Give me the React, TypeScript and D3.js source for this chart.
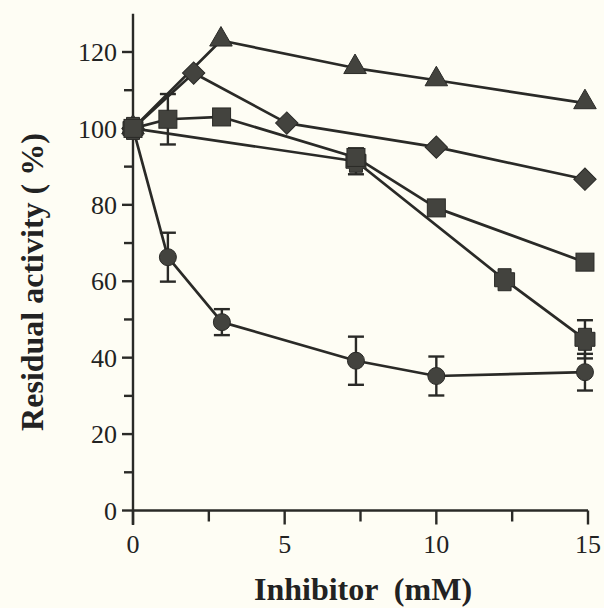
import React from "react";
import * as d3 from "d3";

// ---- data ----
const triX = [0, 2.9, 7.32, 10.0, 14.9];
const triY = [100, 123, 115.8, 112.6, 106.6];

const diaX = [0, 2.0, 5.07, 10.0, 14.9];
const diaY = [100, 114.5, 101.4, 95.1, 86.7];

const sqX = [0, 1.15, 2.92, 7.35, 10.0, 14.9];
const sqY = [100, 102.4, 103, 92.4, 79.2, 65];
const sqErr = [0, 6.6, 0, 0, 0, 0];

const xsqX = [0, 7.35, 12.25, 14.9];
const xsqY = [100, 91.4, 60.4, 44.8];
const xsqErr = [0, 3.4, 0, 5.0];

const cirX = [0, 1.15, 2.93, 7.35, 10.0, 14.9];
const cirY = [100, 66.3, 49.3, 39.2, 35.2, 36.2];
const cirErr = [0, 6.4, 3.4, 6.3, 5.1, 4.8];

const yMajor = [0, 20, 40, 60, 80, 100, 120];
const yMinor = [10, 30, 50, 70, 90, 110];
const xMajor = [0, 5, 10, 15];
const xMinor = [2.5, 7.5, 12.5];

const W = 604;
const H = 608;
const BG = "#fefdf4";
const INK = "#2a2a27";
const FILL = "#43433e";
const SERIF = "'Liberation Serif', 'Times New Roman', Times, serif";

export default function App() {
  const x = d3.scaleLinear().domain([0, 15]).range([133, 588]);
  const y = d3.scaleLinear().domain([0, 120]).range([510.5, 52]);
  const line = d3
    .line<[number, number]>()
    .x((d) => x(d[0]))
    .y((d) => y(d[1]));
  const zip = (a: number[], b: number[]) => a.map((v, i) => [v, b[i]] as [number, number]);

  const sym = (type: d3.SymbolType, size: number) => d3.symbol().type(type).size(size)()!;
  const triPath = sym(d3.symbolTriangle, 220);
  const diaPath = sym(d3.symbolSquare, 250);

  const errBars = (xs: number[], ys: number[], es: number[], key: string) =>
    xs.map((xv, i) =>
      es[i] > 0 ? (
        <g key={key + i} stroke={INK} strokeWidth={2.4}>
          <line x1={x(xv)} x2={x(xv)} y1={y(ys[i] - es[i])} y2={y(ys[i] + es[i])} />
          <line x1={x(xv) - 8} x2={x(xv) + 8} y1={y(ys[i] - es[i])} y2={y(ys[i] - es[i])} />
          <line x1={x(xv) - 8} x2={x(xv) + 8} y1={y(ys[i] + es[i])} y2={y(ys[i] + es[i])} />
        </g>
      ) : null
    );

  return (
    <svg
      width={W}
      height={H}
      style={{ position: "absolute", left: 0, top: 0, display: "block" }}
    >
      <rect x={0} y={0} width={W} height={H} fill={BG} />

      {/* axes */}
      <g stroke={INK} strokeWidth={2.4} fill="none">
        <line x1={x(0)} x2={x(0)} y1={y(130)} y2={525} />
        <line x1={x(0)} x2={x(15)} y1={y(0)} y2={y(0)} />
        {yMajor.map((v) => (
          <line key={"ym" + v} x1={x(0) - 11} x2={x(0)} y1={y(v)} y2={y(v)} />
        ))}
        {yMinor.map((v) => (
          <line key={"yn" + v} x1={x(0) - 9} x2={x(0)} y1={y(v)} y2={y(v)} />
        ))}
        {xMajor.map((v) => (
          <line key={"xm" + v} x1={x(v)} x2={x(v)} y1={y(0)} y2={y(0) + 14} />
        ))}
        {xMinor.map((v) => (
          <line key={"xn" + v} x1={x(v)} x2={x(v)} y1={y(0)} y2={y(0) + 11} />
        ))}
      </g>

      {/* tick labels */}
      <g fontFamily={SERIF} fontSize={26} fill="#222">
        {yMajor.map((v) => (
          <text key={"yl" + v} x={117} y={y(v)} dy="0.35em" textAnchor="end">
            {v}
          </text>
        ))}
        {xMajor.map((v) => (
          <text key={"xl" + v} x={x(v)} y={553} textAnchor="middle">
            {v}
          </text>
        ))}
      </g>

      {/* axis titles */}
      <text
        x={363}
        y={600}
        textAnchor="middle"
        fontFamily={SERIF}
        fontWeight="bold"
        fontSize={32}
        fill="#222"
        style={{ whiteSpace: "pre" }}
      >
        {"Inhibitor  (mM)"}
      </text>
      <text
        transform={`translate(43,282) rotate(-90)`}
        textAnchor="middle"
        fontFamily={SERIF}
        fontWeight="bold"
        fontSize={32}
        fill="#222"
        style={{ whiteSpace: "pre" }}
      >
        {"Residual activity ( %)"}
      </text>

      {/* connecting lines */}
      <g fill="none" stroke={INK} strokeWidth={2.7} strokeLinejoin="round">
        <path d={line(zip(triX, triY))!} />
        <path d={line(zip(diaX, diaY))!} />
        <path d={line(zip(sqX, sqY))!} />
        <path d={line(zip(xsqX, xsqY))!} />
        <path d={line(zip(cirX, cirY))!} />
      </g>

      {/* error bars */}
      {errBars(cirX, cirY, cirErr, "ce")}
      {errBars(sqX, sqY, sqErr, "se")}
      {errBars(xsqX, xsqY, xsqErr, "xe")}

      {/* markers */}
      <g fill={FILL} stroke={INK} strokeWidth={1}>
        {cirX.map((v, i) => (
          <circle key={"c" + i} cx={x(v)} cy={y(cirY[i])} r={8.5} />
        ))}
        {triX.map((v, i) => (
          <path key={"t" + i} d={triPath} transform={`translate(${x(v)},${y(triY[i]) - 1})`} />
        ))}
        {diaX.map((v, i) => (
          <path
            key={"d" + i}
            d={diaPath}
            transform={`translate(${x(v)},${y(diaY[i])}) rotate(45)`}
          />
        ))}
        {xsqX.map((v, i) => (
          <path
            key={"x" + i}
            transform={`translate(${x(v)},${y(xsqY[i])})`}
            d="M-6.5,-11H6.5V-7H10V7H6.5V11H-6.5V7H-10V-7H-6.5Z"
          />
        ))}
        {sqX.map((v, i) => (
          <rect key={"s" + i} x={x(v) - 9} y={y(sqY[i]) - 9} width={18} height={18} />
        ))}
      </g>
    </svg>
  );
}
